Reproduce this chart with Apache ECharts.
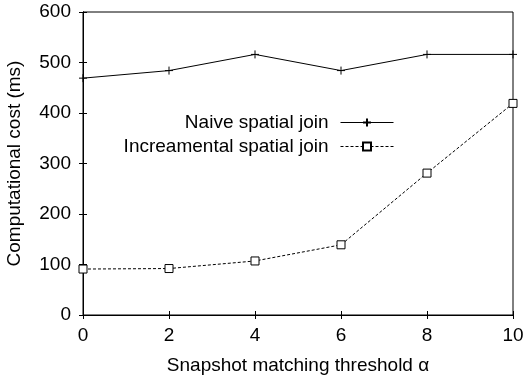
<!DOCTYPE html>
<html><head><meta charset="utf-8">
<script src="https://cdn.jsdelivr.net/npm/echarts@6/dist/echarts.min.js"></script>
<style>html,body{margin:0;padding:0;background:#fff}#c{width:524px;height:377px}</style>
</head><body><div id="c"></div>
<script>
const xValues = [0, 2, 4, 6, 8, 10];
const naiveCost = [469, 484, 516, 484, 516, 516];
const incrCost = [91, 92, 107, 139, 281, 419];
const seriesNames = ['Naive spatial join', 'Increamental spatial join'];
const xTitle = 'Snapshot matching threshold α';
const yTitle = 'Computational cost (ms)';

const font = 'Liberation Sans, Arial, Helvetica, sans-serif';
const fs = 19;
const chart = echarts.init(document.getElementById('c'));
const tickStyle = {show: true, inside: true, length: 4, lineStyle: {color: '#000', width: 1}};
const axLine = {show: true, lineStyle: {color: '#000', width: 1}};
chart.setOption({
  animation: false,
  backgroundColor: '#fff',
  grid: {left: 83, right: 11, top: 12, bottom: 62, outerBoundsMode: 'none', containLabel: false,
         show: true, borderColor: '#000', borderWidth: 1, backgroundColor: 'transparent'},
  xAxis: [{
    type: 'value', min: 0, max: 10, interval: 2, position: 'bottom',
    name: xTitle, nameLocation: 'middle', nameGap: 41,
    nameTextStyle: {fontFamily: font, fontSize: fs, color: '#000'},
    axisLine: axLine, axisTick: tickStyle, splitLine: {show: false},
    axisLabel: {fontFamily: font, fontSize: fs, color: '#000', margin: 11}
  }, {
    type: 'value', min: 0, max: 10, interval: 2, position: 'top',
    axisLine: axLine, axisTick: tickStyle, splitLine: {show: false}, axisLabel: {show: false}
  }],
  yAxis: [{
    type: 'value', min: 0, max: 600, interval: 100, position: 'left',
    name: yTitle, nameLocation: 'middle', nameGap: 59,
    nameTextStyle: {fontFamily: font, fontSize: fs, color: '#000'},
    axisLine: axLine, axisTick: tickStyle, splitLine: {show: false},
    axisLabel: {fontFamily: font, fontSize: fs, color: '#000', margin: 12}
  }, {
    type: 'value', min: 0, max: 600, interval: 100, position: 'right',
    axisLine: axLine, axisTick: tickStyle, splitLine: {show: false}, axisLabel: {show: false}
  }],
  legend: {
    orient: 'vertical', right: 125, top: 108, align: 'right',
    itemWidth: 53, itemHeight: 10, itemGap: 5,
    lineStyle: {width: 1},
    textStyle: {fontFamily: font, fontSize: fs, color: '#000', padding: [0, 7, 0, 0]},
    data: seriesNames
  },
  series: [{
    name: seriesNames[0], type: 'line',
    data: xValues.map((x, i) => [x, naiveCost[i]]),
    symbol: 'path://M5,0L5,10M0,5L10,5', symbolSize: 8, showSymbol: true,
    lineStyle: {color: '#000', width: 1},
    itemStyle: {color: 'none', borderColor: '#000', borderWidth: 1}
  }, {
    name: seriesNames[1], type: 'line',
    data: xValues.map((x, i) => [x, incrCost[i]]),
    symbol: 'rect', symbolSize: 8,
    lineStyle: {color: '#000', width: 1, type: [3, 2]},
    itemStyle: {color: '#fff', borderColor: '#000', borderWidth: 1}
  }]
});
</script></body></html>
